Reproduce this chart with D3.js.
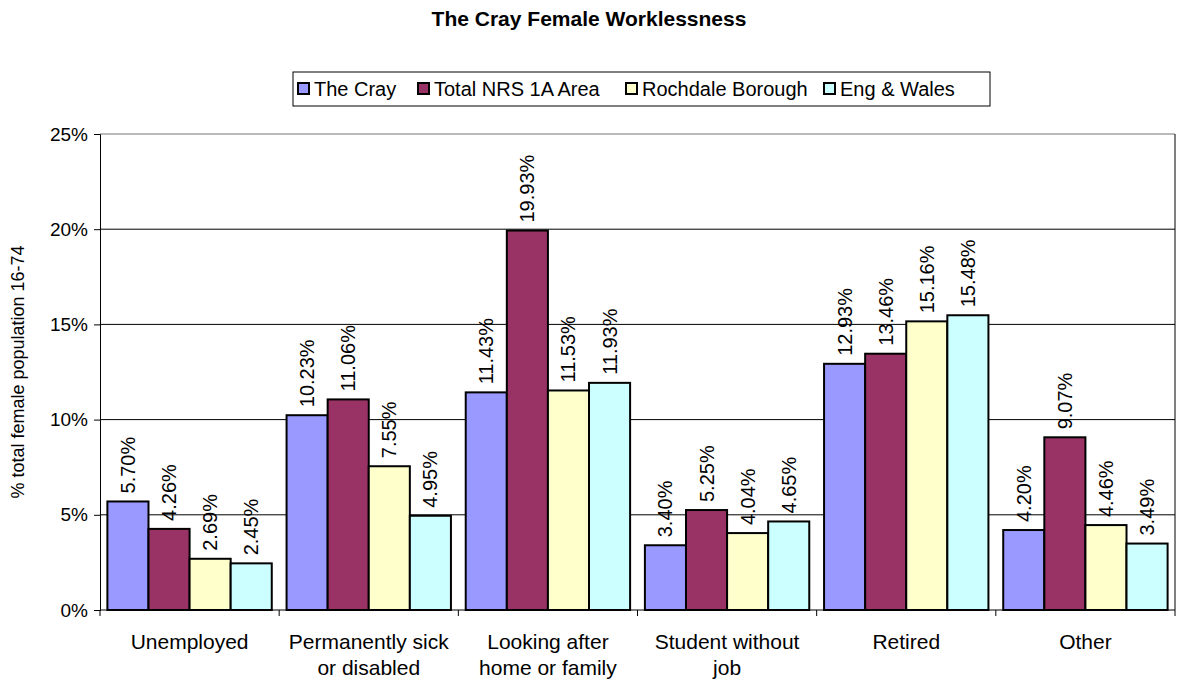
<!DOCTYPE html>
<html>
<head>
<meta charset="utf-8">
<script src="https://cdn.jsdelivr.net/npm/d3@7"></script>
<style>
  body { margin: 0; background: #fff; }
  svg { display: block; font-family: "Liberation Sans", Arial, sans-serif; }
</style>
</head>
<body>
<div id="chart"></div>
<script>
const categories = [
  ["Unemployed"],
  ["Permanently sick", "or disabled"],
  ["Looking after", "home or family"],
  ["Student without", "job"],
  ["Retired"],
  ["Other"]
];
const seriesNames = ["The Cray", "Total NRS 1A Area", "Rochdale Borough", "Eng & Wales"];
const seriesColors = ["#9999FF", "#993366", "#FFFFCC", "#CCFFFF"];
const theCray = [5.70, 10.23, 11.43, 3.40, 12.93, 4.20];
const totalNrs = [4.26, 11.06, 19.93, 5.25, 13.46, 9.07];
const rochdale = [2.69, 7.55, 11.53, 4.04, 15.16, 4.46];
const engWales = [2.45, 4.95, 11.93, 4.65, 15.48, 3.49];
const yTicks = [0, 5, 10, 15, 20, 25];

const values = [theCray, totalNrs, rochdale, engWales];
const width = 1178, height = 684;
const margin = { left: 100, right: 3, top: 134, bottom: 74 };

const svg = d3.select("#chart").append("svg")
  .attr("width", width)
  .attr("height", height);

const catKeys = categories.map(c => c.join(" "));
const x = d3.scaleBand().domain(catKeys).range([margin.left, width - margin.right]);
const x1 = d3.scaleBand().domain(seriesNames).range([0, x.bandwidth()]).paddingOuter(0.18);
const y = d3.scaleLinear().domain([0, 25]).range([height - margin.bottom, margin.top]);

// title
svg.append("text")
  .attr("x", 589)
  .attr("y", 26)
  .attr("text-anchor", "middle")
  .attr("font-size", 21)
  .attr("font-weight", "bold")
  .text("The Cray Female Worklessness");

// gridlines
svg.append("g")
  .selectAll("line")
  .data(yTicks.slice(1))
  .join("line")
  .attr("x1", margin.left)
  .attr("x2", width - margin.right)
  .attr("y1", d => y(d))
  .attr("y2", d => y(d))
  .attr("stroke", d => d === 25 ? "#777" : "#000")
  .attr("stroke-width", 1);

// plot border (right)
svg.append("line")
  .attr("x1", width - margin.right).attr("x2", width - margin.right)
  .attr("y1", y(25)).attr("y2", y(0))
  .attr("stroke", "#000");

// bars
const group = svg.append("g")
  .selectAll("g")
  .data(catKeys)
  .join("g")
  .attr("transform", d => `translate(${x(d)},0)`);

group.selectAll("rect")
  .data((d, i) => seriesNames.map((s, j) => ({ s, j, v: values[j][i] })))
  .join("rect")
  .attr("x", d => x1(d.s))
  .attr("y", d => y(d.v))
  .attr("width", x1.bandwidth())
  .attr("height", d => y(0) - y(d.v))
  .attr("fill", d => seriesColors[d.j])
  .attr("stroke", "#000")
  .attr("stroke-width", 2);

// data labels
group.selectAll("text")
  .data((d, i) => seriesNames.map((s, j) => ({ s, j, v: values[j][i] })))
  .join("text")
  .attr("transform", d => `translate(${x1(d.s) + x1.bandwidth() / 2 + 7},${y(d.v) - 8}) rotate(-90)`)
  .attr("font-size", 20)
  .attr("text-anchor", "start")
  .text(d => d.v.toFixed(2) + "%");

// y axis
const yAxis = svg.append("g")
  .attr("transform", `translate(${margin.left},0)`)
  .call(d3.axisLeft(y).tickValues(yTicks).tickFormat(d => d + "%").tickSize(6).tickPadding(6));
yAxis.select(".domain").attr("stroke", "#000");
yAxis.selectAll("text").attr("font-size", 19).attr("font-family", "Liberation Sans, Arial, sans-serif").attr("fill", "#000");

// x axis
const xAxis = svg.append("g")
  .attr("transform", `translate(0,${y(0)})`);
xAxis.append("line")
  .attr("x1", margin.left).attr("x2", width - margin.right)
  .attr("stroke", "#000");
xAxis.selectAll(".tick")
  .data(catKeys.concat([null]))
  .join("line")
  .attr("x1", (d, i) => i < catKeys.length ? x(d) : x.range()[1])
  .attr("x2", (d, i) => i < catKeys.length ? x(d) : x.range()[1])
  .attr("y1", 0).attr("y2", 6)
  .attr("stroke", "#000");

xAxis.selectAll("text.cat")
  .data(categories)
  .join("text")
  .attr("class", "cat")
  .attr("x", (d, i) => x(catKeys[i]) + x.bandwidth() / 2)
  .attr("y", 39)
  .attr("text-anchor", "middle")
  .attr("font-size", 21)
  .selectAll("tspan")
  .data(d => d)
  .join("tspan")
  .attr("x", function () { return this.parentNode.getAttribute("x"); })
  .attr("dy", (d, i) => i === 0 ? 0 : 26)
  .text(d => d);

// y axis title
svg.append("text")
  .attr("transform", `translate(24,${(y(0) + y(25)) / 2}) rotate(-90)`)
  .attr("text-anchor", "middle")
  .attr("font-size", 18)
  .text("% total female population 16-74");

// legend
const legend = svg.append("g").attr("transform", "translate(293,72)");
legend.append("rect")
  .attr("width", 697).attr("height", 34)
  .attr("fill", "#fff").attr("stroke", "#000");
const legendX = [5, 125, 333, 531];
const item = legend.selectAll("g")
  .data(seriesNames)
  .join("g")
  .attr("transform", (d, i) => `translate(${legendX[i]},0)`);
item.append("rect")
  .attr("y", 11).attr("width", 11).attr("height", 11)
  .attr("fill", (d, i) => seriesColors[i])
  .attr("stroke", "#000").attr("stroke-width", 2);
item.append("text")
  .attr("x", 16).attr("y", 24)
  .attr("font-size", 20)
  .text(d => d);
</script>
</body>
</html>
